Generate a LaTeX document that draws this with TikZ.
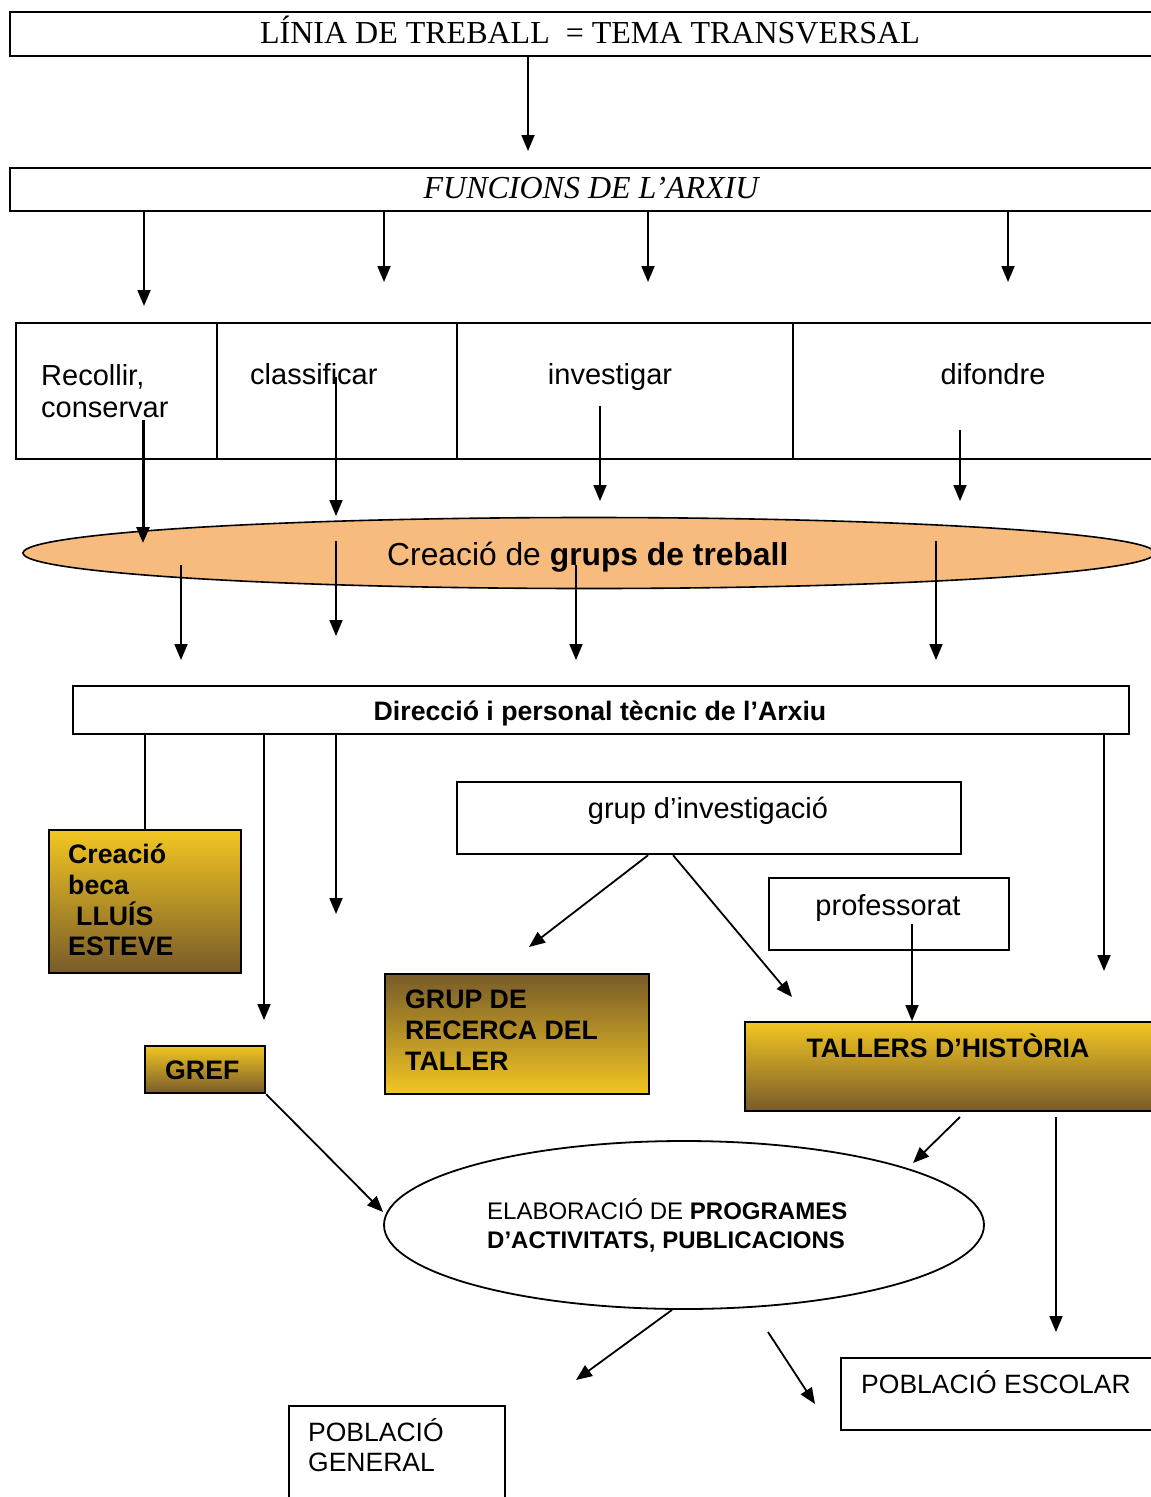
\documentclass[tikz,border=0pt]{standalone}
\usepackage{fontspec}
\setmainfont{Liberation Sans}
\newfontfamily\timesfont{Liberation Serif}
\usetikzlibrary{arrows.meta,shapes.geometric}
\definecolor{peach}{HTML}{F7BB7D}
\definecolor{gold}{HTML}{F2C622}
\definecolor{umber}{HTML}{785B2A}
\begin{document}
\begin{tikzpicture}[x=1pt,y=-1pt,
  boxst/.style={draw,line width=2.2pt,rectangle,inner sep=0pt,anchor=north west},
  gradbox/.style={boxst,top color=gold,bottom color=umber},
  revbox/.style={boxst,top color=umber,bottom color=gold},
  arr/.style={line width=1.8pt,-{Triangle[length=16pt,width=13pt]}},
  plainln/.style={line width=1.8pt},
  reg/.style={inner sep=0pt,font=\fontsize{29}{33}\selectfont},
  bld/.style={inner sep=0pt,font=\fontsize{26.7}{31}\selectfont\bfseries},
  med/.style={inner sep=0pt,font=\fontsize{26.5}{31}\selectfont},
  sml/.style={inner sep=0pt,font=\fontsize{24}{29}\selectfont},
  ttl/.style={inner sep=0pt,anchor=base,font=\timesfont\fontsize{32}{37}\selectfont},
]
\useasboundingbox (0,0) rectangle (1151,1497);
\clip (0,0) rectangle (1151,1497);

% ---- top boxes
\node[boxst,minimum width=1170pt,minimum height=44pt] (linia) at (9,11) {};
\node[ttl] (liniaT) at (590,43) {LÍNIA DE TREBALL\ \ = TEMA TRANSVERSAL};
\node[boxst,minimum width=1170pt,minimum height=43pt] (funcs) at (9,167) {};
\node[ttl] (funcsT) at (591,198) {\itshape FUNCIONS DE L’ARXIU};

\coordinate (t1) at (528,151);
\draw[arr] (linia.south -| t1) -- (t1);
\coordinate (f1) at (144,306);
\coordinate (f2) at (384,282);
\coordinate (f3) at (648,282);
\coordinate (f4) at (1008,282);
\foreach \c in {f1,f2,f3,f4} \draw[arr] (funcs.south -| \c) -- (\c);

% ---- function cells
\node[boxst,minimum width=201pt,minimum height=136pt] (c1) at (15,322) {};
\node[boxst,minimum width=240pt,minimum height=136pt] (c2) at (216,322) {};
\node[boxst,minimum width=336pt,minimum height=136pt] (c3) at (456,322) {};
\node[boxst,minimum width=380pt,minimum height=136pt] (c4) at (792,322) {};
\node[reg,anchor=base west] (c1a) at (41,385) {Recollir,};
\node[reg,anchor=base west] (c1b) at (41,417) {conservar};
\node[reg,anchor=base west] (c2a) at (250,384) {classificar};
\node[reg,anchor=base] (c3a) at (610,384) {investigar};
\node[reg,anchor=base] (c4a) at (993,384) {difondre};

% ---- ellipse grups
\node[draw,ellipse,fill=peach,line width=1.6pt,minimum width=1132pt,minimum height=71pt,inner sep=0pt] (grups) at (589,553) {};
\node[inner sep=0pt,anchor=base west,font=\fontsize{31.8}{36}\selectfont] (grupsT) at (387,565) {Creació de \textbf{grups de treball}};

\coordinate (s1) at (143,420); \coordinate (e1) at (143,543);
\coordinate (s2) at (336,377); \coordinate (e2) at (336,516);
\coordinate (s3) at (600,406); \coordinate (e3) at (600,501);
\coordinate (s4) at (960,430); \coordinate (e4) at (960,501);
\draw[arr,line width=3pt] (s1) -- (e1);
\draw[arr] (s2) -- (e2);
\draw[arr] (s3) -- (e3);
\draw[arr] (s4) -- (e4);

\coordinate (u1) at (181,565); \coordinate (v1) at (181,660);
\coordinate (u2) at (336,541); \coordinate (v2) at (336,636);
\coordinate (u3) at (576,565); \coordinate (v3) at (576,660);
\coordinate (u4) at (936,541); \coordinate (v4) at (936,660);
\draw[arr] (u1) -- (v1);
\draw[arr] (u2) -- (v2);
\draw[arr] (u3) -- (v3);
\draw[arr] (u4) -- (v4);

% ---- direcció
\node[boxst,minimum width=1056pt,minimum height=48pt] (dir) at (72,685) {};
\node[bld,anchor=base] (dirT) at (600,720) {Direcció i personal tècnic de l’Arxiu};

% ---- gradient boxes
\node[gradbox,minimum width=192pt,minimum height=143pt] (beca) at (48,829) {};
\node[bld,anchor=base west] (beca1) at (68,863) {Creació};
\node[bld,anchor=base west] (beca2) at (68,894) {beca};
\node[bld,anchor=base west] (beca3) at (76,925) {LLUÍS};
\node[bld,anchor=base west] (beca4) at (68,955) {ESTEVE};

\node[gradbox,minimum width=120pt,minimum height=47pt] (gref) at (144,1045) {};
\node[bld,anchor=base west] (grefT) at (165,1079) {GREF};

\node[revbox,minimum width=264pt,minimum height=120pt] (grec) at (384,973) {};
\node[bld,anchor=base west] (grec1) at (405,1008) {GRUP DE};
\node[bld,anchor=base west] (grec2) at (405,1039) {RECERCA DEL};
\node[bld,anchor=base west] (grec3) at (405,1070) {TALLER};

\node[gradbox,minimum width=430pt,minimum height=89pt] (tall) at (744,1021) {};
\node[bld,anchor=base] (tallT) at (948,1057) {TALLERS D’HISTÒRIA};

% ---- white boxes
\node[boxst,minimum width=504pt,minimum height=72pt] (grupi) at (456,781) {};
\node[reg,anchor=base] (grupiT) at (708,818) {grup d’investigació};
\node[boxst,minimum width=240pt,minimum height=72pt] (prof) at (768,877) {};
\node[reg,anchor=base] (profT) at (888,915) {professorat};

% ---- connectors from direcció
\draw[plainln] (beca.north |- dir.south) -- (beca.north);
\coordinate (d2) at (264,1020);
\coordinate (d3) at (336,914);
\coordinate (d4) at (1104,971);
\foreach \c in {d2,d3,d4} \draw[arr] (dir.south -| \c) -- (\c);

\coordinate (g1) at (529,947);
\coordinate (g2) at (792,997);
\draw[arr] ([xshift=-61pt]grupi.south) -- (g1);
\draw[arr] ([xshift=-36pt]grupi.south) -- (g2);

\coordinate (p1) at (912,924);
\draw[arr] (p1) -- (p1 |- tall.north);

% ---- elaboració
\node[draw,ellipse,line width=1.8pt,minimum width=600pt,minimum height=168pt,inner sep=0pt] (elab) at (684,1225) {};
\node[sml,anchor=base west] (elab1) at (487,1219) {ELABORACIÓ DE \textbf{PROGRAMES}};
\node[sml,anchor=base west] (elab2) at (487,1248) {\textbf{D’ACTIVITATS, PUBLICACIONS}};

\draw[arr] (gref.south east) -- ([yshift=13pt]elab.west);
\coordinate (ta1) at (960,1117); \coordinate (ta2) at (913,1163);
\draw[arr] (ta1) -- (ta2);
\coordinate (tb1) at (1056,1117); \coordinate (tb2) at (1056,1332);
\draw[arr] (tb1) -- (tb2);

% ---- población boxes
\node[boxst,minimum width=330pt,minimum height=72pt] (escolar) at (840,1357) {};
\node[med,anchor=base west] (escolarT) at (861,1393) {POBLACIÓ ESCOLAR};
\node[boxst,minimum width=216pt,minimum height=120pt] (general) at (288,1405) {};
\node[med,anchor=base west] (general1) at (308,1441) {POBLACIÓ};
\node[med,anchor=base west] (general2) at (308,1471) {GENERAL};

\coordinate (h1) at (576,1380);
\draw[arr] ([xshift=-12pt]elab.south) -- (h1);
\coordinate (k1) at (768,1332); \coordinate (k2) at (815,1404);
\draw[arr] (k1) -- (k2);
\end{tikzpicture}
\end{document}
